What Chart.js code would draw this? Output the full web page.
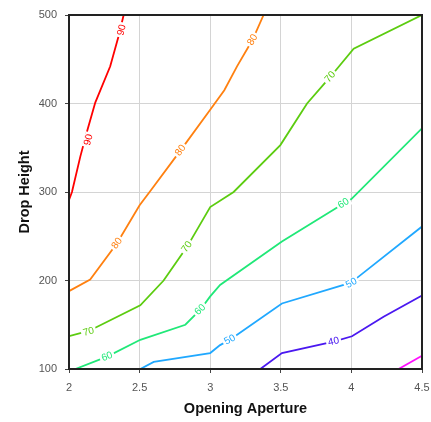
<!DOCTYPE html>
<html><head><meta charset="utf-8">
<script src="https://cdn.jsdelivr.net/npm/chart.js@4/dist/chart.umd.min.js"></script>
<style>html,body{margin:0;padding:0;background:#fff}#wrap{width:431px;height:422px;position:relative}</style>
</head><body><div id="wrap"><canvas id="c"></canvas></div>
<script>
const levels = ['90','80','70','60','50','40','30'];
const colors = ['#ff0000','#ff8010','#5ccc10','#20e878','#20a8ff','#4a18f0','#ff10ff'];
const line90 = [[2,291],[2.021,300],[2.08,340],[2.127,368],[2.186,401],[2.292,442],[2.351,476],[2.387,500]];
const line80 = [[2,188],[2.15,201],[2.34,242],[2.5,285],[2.58,302],[2.79,347],[3,393],[3.1,415],[3.19,442],[3.3,472],[3.378,500]];
const line70 = [[2,137],[2.14,143],[2.505,172],[2.67,200],[2.836,238],[3,283],[3.166,300],[3.497,353],[3.686,400],[3.85,430],[4.016,462],[4.5,500]];
const line60 = [[2.045,100],[2.27,114],[2.505,133],[2.824,150],[2.93,167],[3,182],[3.07,195],[3.508,244],[3.945,287],[4.0,292],[4.5,372]];
const line50 = [[2.505,100],[2.6,108],[3,118],[3.07,127],[3.14,133],[3.508,174],[3.945,195],[4.04,203],[4.5,261]];
const line40 = [[3.355,100],[3.508,118],[3.874,131],[4.004,137],[4.228,159],[4.5,183]];
const line30 = [[4.334,100],[4.5,115]];
const allLines = [line90,line80,line70,line60,line50,line40,line30];
const xTicks = [2,2.5,3,3.5,4,4.5];
const yTicks = [100,200,300,400,500];
// contour labels: [series index, x, y]
const labelSpots = [[0,2.139,359],[0,2.375,483],[1,2.34,242],[1,2.79,347],[1,3.3,472],[2,2.139,142],[2,2.836,238],[2,3.85,430],[3,2.27,114],[3,2.93,167],[3,3.945,287],[4,3.14,133],[4,4.0,197],[5,3.874,131]];

const FONT = '"Liberation Sans", Arial, sans-serif';
const frame = {
  id:'frame',
  afterDraw(chart){
    const {ctx, chartArea:a} = chart;
    ctx.save();
    ctx.strokeStyle = '#222';
    ctx.lineWidth = 2;
    ctx.strokeRect(a.left, a.top, a.right-a.left, a.bottom-a.top);
    ctx.restore();
  }
};
const clabels = {
  id:'clabels',
  afterDatasetsDraw(chart){
    const {ctx} = chart;
    const xs = chart.scales.x, ys = chart.scales.y;
    ctx.save();
    ctx.font = '10px ' + FONT;
    ctx.textAlign = 'center'; ctx.textBaseline = 'middle';
    labelSpots.forEach(([si,x,y])=>{
      const pts = allLines[si];
      let k = 0;
      for (let i=0;i<pts.length-1;i++){ if (x>=pts[i][0] && x<=pts[i+1][0]) {k=i;break;} }
      const x1=xs.getPixelForValue(pts[k][0]), y1=ys.getPixelForValue(pts[k][1]);
      const x2=xs.getPixelForValue(pts[k+1][0]), y2=ys.getPixelForValue(pts[k+1][1]);
      const ang = Math.atan2(y2-y1, x2-x1);
      const px = xs.getPixelForValue(x), py = ys.getPixelForValue(y);
      ctx.translate(px,py); ctx.rotate(ang);
      const t = levels[si]; const w = ctx.measureText(t).width;
      ctx.fillStyle = '#fff'; ctx.fillRect(-w/2-2,-5,w+4,10);
      ctx.fillStyle = colors[si]; ctx.fillText(t,0,0);
      ctx.setTransform(1,0,0,1,0,0);
    });
    ctx.restore();
  }
};
new Chart(document.getElementById('c'), {
  type:'scatter',
  data:{ datasets: allLines.map((l,i)=>({
    label: levels[i], data: l.map(p=>({x:p[0],y:p[1]})),
    showLine:true, borderColor:colors[i], backgroundColor:colors[i],
    borderWidth:1.8, pointRadius:0, tension:0, fill:false
  }))},
  options:{
    responsive:true, maintainAspectRatio:false, animation:false,
    devicePixelRatio:1,
    layout:{padding:{top:15,right:9,left:0,bottom:0}},
    plugins:{legend:{display:false},tooltip:{enabled:false}},
    scales:{
      x:{type:'linear',min:2,max:4.5,
        afterBuildTicks(ax){ax.ticks = xTicks.map(v=>({value:v}));},
        afterFit(ax){ax.height = 53; ax.paddingRight = 0; ax.paddingLeft = 0;},
        grid:{color:'#d4d4d4',drawTicks:true,tickLength:4,tickColor:'#444'},
        border:{display:false},
        ticks:{color:'#555',padding:8,font:{size:11,family:FONT},callback:v=>String(v)},
        title:{display:true,text:'Opening Aperture',color:'#111',font:{size:14.5,weight:'bold',family:FONT},padding:{top:0}}
      },
      y:{type:'linear',min:100,max:500,
        afterBuildTicks(ax){ax.ticks = yTicks.map(v=>({value:v}));},
        afterFit(ax){ax.width = 69; ax.paddingTop = 0; ax.paddingBottom = 0;},
        grid:{color:'#d4d4d4',drawTicks:true,tickLength:4,tickColor:'#444'},
        border:{display:false},
        ticks:{color:'#555',padding:8,font:{size:11,family:FONT},callback:v=>String(v)},
        title:{display:true,text:'Drop Height',color:'#111',font:{size:14.5,weight:'bold',family:FONT},padding:{top:16,bottom:0}}
      }
    }
  },
  plugins:[frame,clabels]
});
</script></body></html>
